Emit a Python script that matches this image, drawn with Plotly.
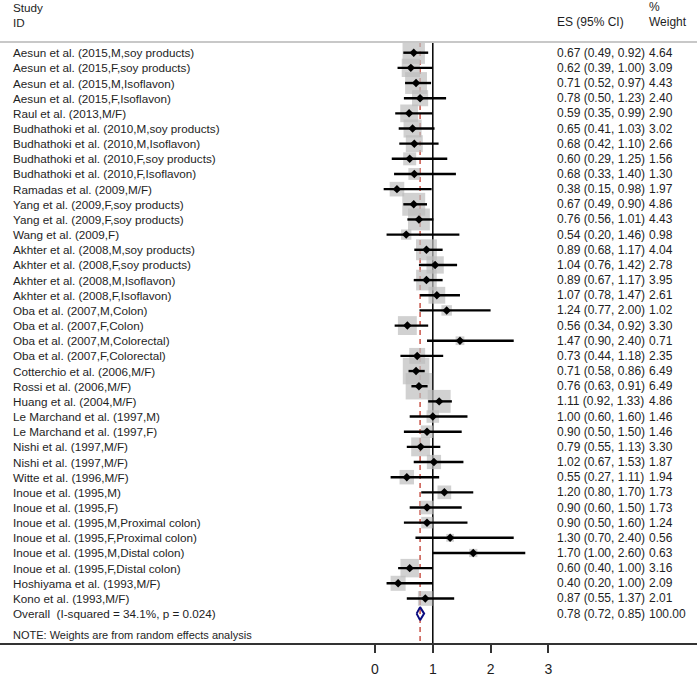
import plotly.graph_objects as go

studies = [
    "Aesun et al. (2015,M,soy products)",
    "Aesun et al. (2015,F,soy products)",
    "Aesun et al. (2015,M,Isoflavon)",
    "Aesun et al. (2015,F,Isoflavon)",
    "Raul et al. (2013,M/F)",
    "Budhathoki et al. (2010,M,soy products)",
    "Budhathoki et al. (2010,M,Isoflavon)",
    "Budhathoki et al. (2010,F,soy products)",
    "Budhathoki et al. (2010,F,Isoflavon)",
    "Ramadas et al. (2009,M/F)",
    "Yang et al. (2009,F,soy products)",
    "Yang et al. (2009,F,soy products)",
    "Wang et al. (2009,F)",
    "Akhter et al. (2008,M,soy products)",
    "Akhter et al. (2008,F,soy products)",
    "Akhter et al. (2008,M,Isoflavon)",
    "Akhter et al. (2008,F,Isoflavon)",
    "Oba et al. (2007,M,Colon)",
    "Oba et al. (2007,F,Colon)",
    "Oba et al. (2007,M,Colorectal)",
    "Oba et al. (2007,F,Colorectal)",
    "Cotterchio et al. (2006,M/F)",
    "Rossi et al. (2006,M/F)",
    "Huang et al. (2004,M/F)",
    "Le Marchand et al. (1997,M)",
    "Le Marchand et al. (1997,F)",
    "Nishi et al. (1997,M/F)",
    "Nishi et al. (1997,M/F)",
    "Witte et al. (1996,M/F)",
    "Inoue et al. (1995,M)",
    "Inoue et al. (1995,F)",
    "Inoue et al. (1995,M,Proximal colon)",
    "Inoue et al. (1995,F,Proximal colon)",
    "Inoue et al. (1995,M,Distal colon)",
    "Inoue et al. (1995,F,Distal colon)",
    "Hoshiyama et al. (1993,M/F)",
    "Kono et al. (1993,M/F)",
]
es = [0.67, 0.62, 0.71, 0.78, 0.59, 0.65, 0.68, 0.60, 0.68, 0.38,
      0.67, 0.76, 0.54, 0.89, 1.04, 0.89, 1.07, 1.24, 0.56, 1.47,
      0.73, 0.71, 0.76, 1.11, 1.00, 0.90, 0.79, 1.02, 0.55, 1.20,
      0.90, 0.90, 1.30, 1.70, 0.60, 0.40, 0.87]
lci = [0.49, 0.39, 0.52, 0.50, 0.35, 0.41, 0.42, 0.29, 0.33, 0.15,
       0.49, 0.56, 0.20, 0.68, 0.76, 0.67, 0.78, 0.77, 0.34, 0.90,
       0.44, 0.58, 0.63, 0.92, 0.60, 0.50, 0.55, 0.67, 0.27, 0.80,
       0.60, 0.50, 0.70, 1.00, 0.40, 0.20, 0.55]
uci = [0.92, 1.00, 0.97, 1.23, 0.99, 1.03, 1.10, 1.25, 1.40, 0.98,
       0.90, 1.01, 1.46, 1.17, 1.42, 1.17, 1.47, 2.00, 0.92, 2.40,
       1.18, 0.86, 0.91, 1.33, 1.60, 1.50, 1.13, 1.53, 1.11, 1.70,
       1.50, 1.60, 2.40, 2.60, 1.00, 1.00, 1.37]
weight = [4.64, 3.09, 4.43, 2.40, 2.90, 3.02, 2.66, 1.56, 1.30, 1.97,
          4.86, 4.43, 0.98, 4.04, 2.78, 3.95, 2.61, 1.02, 3.30, 0.71,
          2.35, 6.49, 6.49, 4.86, 1.46, 1.46, 3.30, 1.87, 1.94, 1.73,
          1.73, 1.24, 0.56, 0.63, 3.16, 2.09, 2.01]
overall_label = "Overall  (I-squared = 34.1%, p = 0.024)"
overall = [0.78, 0.72, 0.85, 100.00]
x_ticks = [0, 1, 2, 3]
note = "NOTE: Weights are from random effects analysis"

W, H = 697, 676
BOT = 33
PX_PER_UNIT = 57.8
X0_PX = 375
ROW0_PX = 52.7
ROW_PX = 15.16
plot_h = H - BOT

xmin = -X0_PX / PX_PER_UNIT
xmax = xmin + W / PX_PER_UNIT
ytop = -ROW0_PX / ROW_PX
ybot = (plot_h - ROW0_PX) / ROW_PX

n = len(studies)
rows = list(range(n))
ov_row = n

FONT = "Liberation Sans, Arial, sans-serif"
TXT = "#1e1e1e"

fig = go.Figure()

# weight squares
fig.add_trace(go.Scatter(
    x=es, y=rows, mode="markers",
    marker=dict(symbol="square", size=[10.4 * (w ** 0.5) for w in weight],
                color="#bdbdbd", line=dict(width=0)),
    hoverinfo="skip", showlegend=False))

# CI lines
cx, cy = [], []
for i in rows:
    cx += [lci[i], uci[i], None]
    cy += [i, i, None]
fig.add_trace(go.Scatter(x=cx, y=cy, mode="lines",
                         line=dict(color="black", width=2.4),
                         hoverinfo="skip", showlegend=False))

# point estimates
fig.add_trace(go.Scatter(
    x=es, y=rows, mode="markers",
    marker=dict(symbol="diamond", size=6.5, color="black"),
    hoverinfo="skip", showlegend=False))

# overall diamond
h = 0.43
fig.add_trace(go.Scatter(
    x=[overall[1], overall[0], overall[2], overall[0], overall[1]],
    y=[ov_row, ov_row - h, ov_row, ov_row + h, ov_row],
    mode="lines", line=dict(color="#0b0b80", width=2),
    hoverinfo="skip", showlegend=False))

top_line_y = (42 - ROW0_PX) / ROW_PX
shapes = [
    dict(type="line", xref="paper", yref="y", x0=0, x1=1,
         y0=top_line_y, y1=top_line_y, line=dict(color="#c8c8c8", width=2)),
    dict(type="line", xref="x", yref="y", x0=1, x1=1,
         y0=top_line_y, y1=ybot, line=dict(color="black", width=1.5),
         layer="below"),
    dict(type="line", xref="x", yref="y", x0=overall[0], x1=overall[0],
         y0=top_line_y, y1=ybot,
         line=dict(color="#c0392b", width=1.3, dash="5px,4px"),
         layer="below"),
]

ann = []
def txt(x_px, y, s, size=12, yref="y"):
    ann.append(dict(x=x_px / W, xref="paper", y=y, yref=yref, text=s,
                    showarrow=False, xanchor="left", yanchor="middle",
                    borderpad=0,
                    font=dict(family=FONT, size=size, color=TXT)))

LBL_X, ES_X, WT_X = 12, 556, 648
LBL_FS, COL_FS = 11.7, 12
for i in rows:
    txt(LBL_X, i, studies[i], LBL_FS)
    txt(ES_X, i, f"{es[i]:.2f} ({lci[i]:.2f}, {uci[i]:.2f})", COL_FS)
    txt(WT_X, i, f"{weight[i]:.2f}", COL_FS)
txt(LBL_X, ov_row, overall_label, LBL_FS)
txt(ES_X, ov_row, f"{overall[0]:.2f} ({overall[1]:.2f}, {overall[2]:.2f})", COL_FS)
txt(WT_X, ov_row, f"{overall[3]:.2f}", COL_FS)
txt(LBL_X, (635 - ROW0_PX) / ROW_PX, note, 11)
txt(LBL_X, (7 - ROW0_PX) / ROW_PX, "Study", LBL_FS)
txt(LBL_X, (22 - ROW0_PX) / ROW_PX, "ID", LBL_FS)
txt(ES_X, (22 - ROW0_PX) / ROW_PX, "ES (95% CI)", COL_FS)
txt(WT_X, (7 - ROW0_PX) / ROW_PX, "%", COL_FS)
txt(WT_X, (22 - ROW0_PX) / ROW_PX, "Weight", COL_FS)

fig.update_layout(
    width=W, height=H,
    margin=dict(l=0, r=0, t=0, b=BOT, pad=0),
    paper_bgcolor="white", plot_bgcolor="white",
    shapes=shapes, annotations=ann, showlegend=False,
    xaxis=dict(range=[xmin, xmax], showgrid=False, zeroline=False,
               showline=True, linecolor="#333333", linewidth=2,
               ticks="outside", ticklen=8, tickwidth=2, tickcolor="#333333",
               tickvals=x_ticks, ticktext=[str(t) for t in x_ticks],
               tickfont=dict(family=FONT, size=14, color=TXT),
               ticklabelstandoff=4, fixedrange=True),
    yaxis=dict(range=[ybot, ytop], visible=False, fixedrange=True),
)

fig.write_html("out.html", config={"displayModeBar": False},
               post_script="document.body.style.margin='0';")
